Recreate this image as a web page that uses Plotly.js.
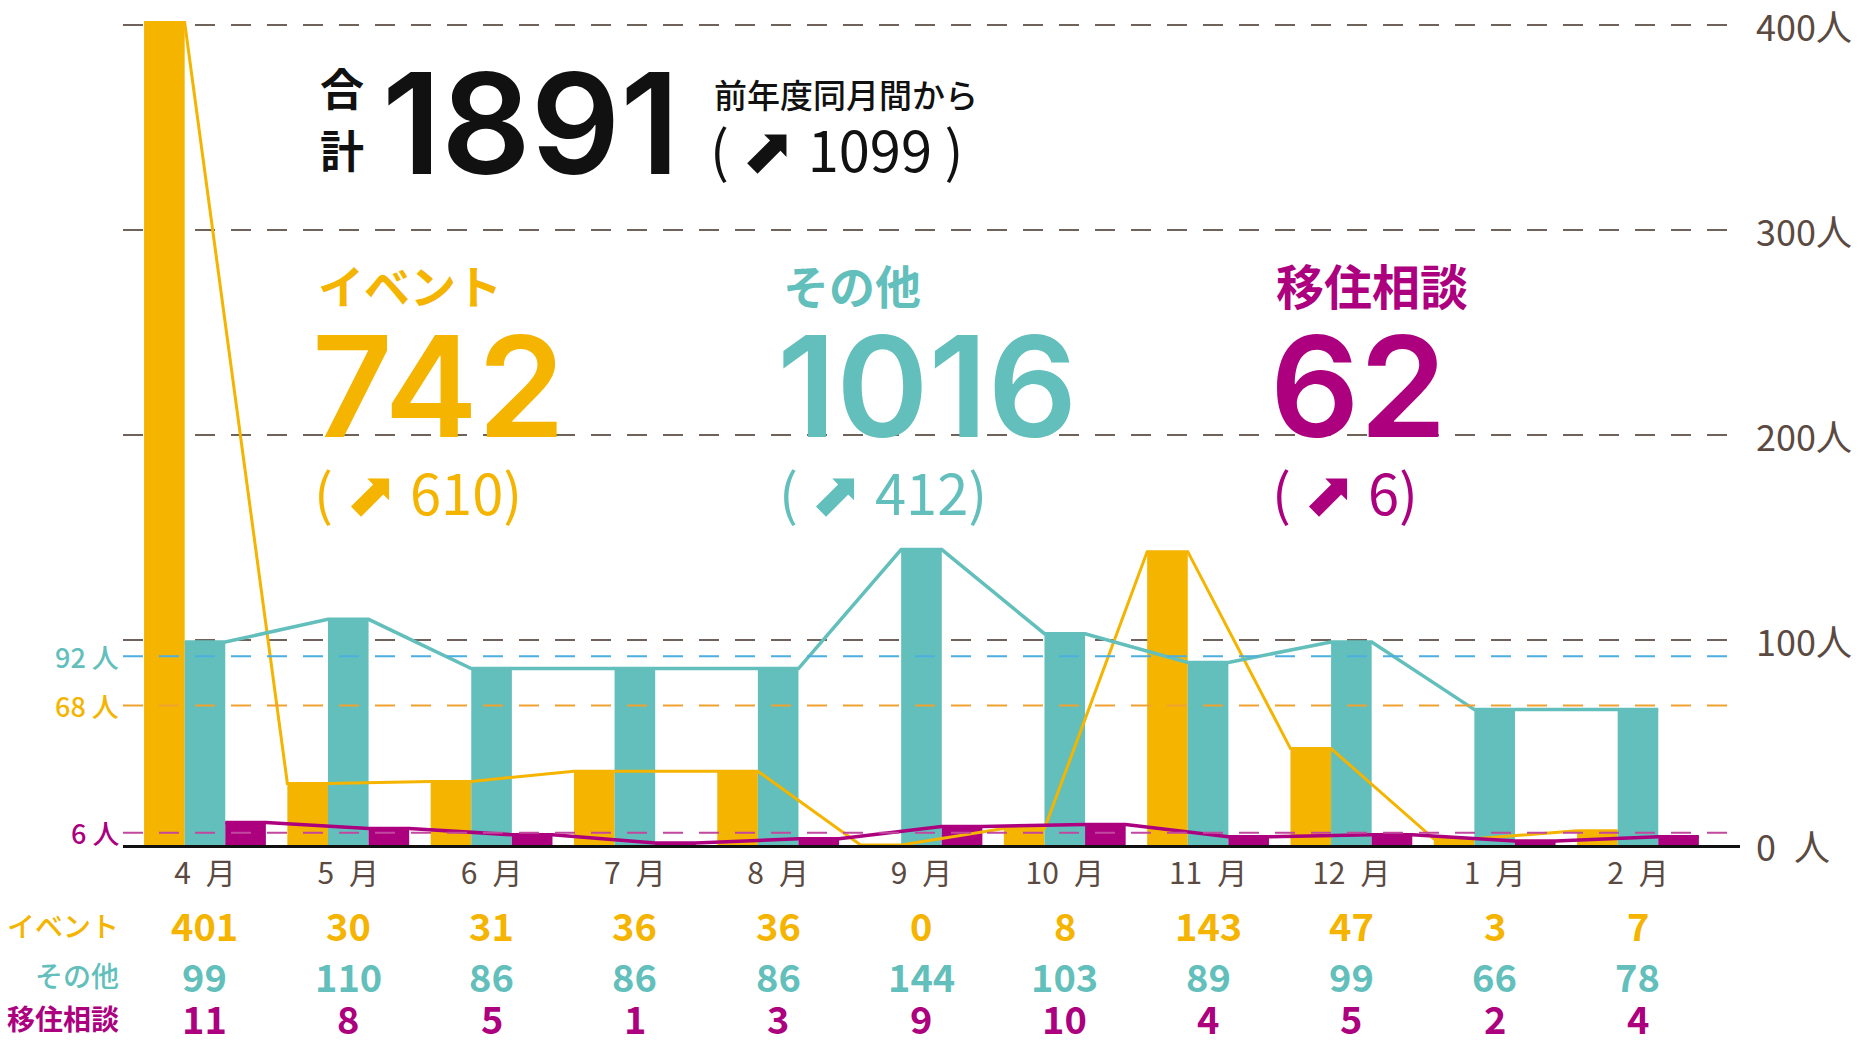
<!DOCTYPE html>
<html><head><meta charset="utf-8">
<script src="https://cdn.plot.ly/plotly-3.0.1.min.js"></script>
<style>html,body{margin:0;padding:0;background:#fff}#chart{width:1870px;height:1045px}</style>
</head><body><div id="chart"></div>
<script>
// ---- data ----
const months = ['4\u2002月','5\u2002月','6\u2002月','7\u2002月','8\u2002月','9\u2002月','10\u2002月','11\u2002月','12\u2002月','1\u2002月','2\u2002月'];
const eventVals   = [401,30,31,36,36,0,8,143,47,3,7];       // bar heights as drawn
const otherVals   = [99,110,86,86,86,144,103,89,99,66,66];  // bar heights as drawn
const consultVals = [11,8,5,1,3,9,10,4,5,2,4];              // bar heights as drawn
const eventTable   = [401,30,31,36,36,0,8,143,47,3,7];      // numbers printed below
const otherTable   = [99,110,86,86,86,144,103,89,99,66,78];
const consultTable = [11,8,5,1,3,9,10,4,5,2,4];
const seriesNames = ['イベント','その他','移住相談'];
const totals = [742,1016,62];
const totalChanges = [610,412,6];
const grandTotal = 1891;
const grandChange = 1099;
const averages = [68,92,6];
const yTicks = [0,100,200,300,400];
const yTickText = ['0\u2002人','100人','200人','300人','400人'];

// ---- style ----
const COLORS = ['#F4B400','#62BFBB','#AC007F'];
const AVG_COLORS = ['#F0A132','#4DAFE0','#C2479E'];
const BROWN = '#5B4A41';
const GRID = '#6E625A';
const JP = 'Noto Sans CJK JP, DejaVu Sans, sans-serif';
const NUM = 'Noto Sans CJK JP, sans-serif';
const BIG = 'Inter, Lato, sans-serif';

const L = 123, R = 1740, T = 4, B = 845;
const W = 1870, H = 1045;
const YMAX = 410;
const px = X => (X - L) / (R - L);
const py = Y => (B - Y) / (B - T);

const idx = months.map((_, i) => i);
const bargap = 0.15;
const bw = (1 - bargap) / 3;

const vals = [eventVals, otherVals, consultVals];
const traces = [];
vals.forEach((v, k) => {
  traces.push({type:'bar', x: idx, y: v, name: seriesNames[k], marker:{color: COLORS[k], line:{width:0}}, hoverinfo:'skip'});
});
vals.forEach((v, k) => {
  const xs = [], ys = [];
  v.forEach((val, i) => {
    const left = i + (k - 1) * bw - bw / 2;
    xs.push(left, left + bw);
    ys.push(val, val);
  });
  traces.push({type:'scatter', mode:'lines', x: xs, y: ys, line:{color: COLORS[k], width: k === 0 ? 3 : 3.5}, hoverinfo:'skip', showlegend:false});
});

const shapes = averages.map((a, k) => ({
  type:'line', xref:'paper', x0:0, x1:1, yref:'y', y0:a, y1:a, layer:'above',
  line:{color: AVG_COLORS[k], width:2, dash:'20px,16px'}
}));

const ann = [];
function A(text, X, Y, font) {
  ann.push({text, xref:'paper', yref:'paper', x: px(X), y: py(Y), xanchor:'left', yanchor:'middle',
    showarrow:false, font});
}
const arrow = size => '<span style="font-family:DejaVu Sans;font-size:' + size + 'px">⬈</span>';

// right-hand value labels
yTicks.forEach((v, i) => {
  ann.push({text: yTickText[i], xref:'paper', yref:'y', x: 1, y: v, xanchor:'left', yanchor:'middle', xshift: 14,
    showarrow:false, font:{size: 36, color: BROWN, family: JP}});
});
// average labels
averages.forEach((a, k) => {
  ann.push({text: a + ' 人', xref:'paper', yref:'y', x: px(121), y: a, xanchor:'right', yanchor:'middle', showarrow:false,
    font:{size: 27, color: COLORS[k], family: NUM, weight: 500}});
});
// table rows
const tables = [eventTable, otherTable, consultTable];
const rowY = [925, 975, 1018];
tables.forEach((t, k) => {
  ann.push({text: seriesNames[k], xref:'paper', yref:'paper', x: px(121), y: py(rowY[k]), xanchor:'right', yanchor:'middle', showarrow:false,
    font:{size: 28, color: COLORS[k], family: JP, weight: k === 2 ? 700 : 500}});
  t.forEach((v, i) => {
    ann.push({text: String(v), xref:'x', yref:'paper', x: i, y: py(rowY[k]), xanchor:'center', yanchor:'middle', showarrow:false,
      font:{size: 38, color: COLORS[k], family: NUM, weight: 600}});
  });
});
// header
A('合', 318, 87, {size:44, color:'#111', family:JP, weight:700});
A('計', 318, 149, {size:44, color:'#111', family:JP, weight:700});
A(String(grandTotal), 380, 123, {size:140, color:'#111', family:BIG, weight:600});
A('前年度同月間から', 712, 94, {size:33, color:'#111', family:JP, weight:500});
A('( ' + arrow(64) + ' ' + grandChange + ' )', 708, 148, {size:56, color:'#111', family:JP});
const catX = [316, 781, 1274];
catX.forEach((X, k) => {
  A(seriesNames[k], X, 284, {size: k === 2 ? 48 : 46, color:COLORS[k], family:JP, weight:700});
  A(String(totals[k]), X - 6, 386, {size:140, color:COLORS[k], family:BIG, weight:600});
  A('( ' + arrow(62) + ' ' + totalChanges[k] + ')', X - 4, 490, {size:56, color:COLORS[k], family:JP});
});

const layout = {
  width: W, height: H,
  margin:{l: L, r: W - R, t: T, b: H - B, pad:0},
  paper_bgcolor:'#fff', plot_bgcolor:'#fff',
  showlegend:false,
  barmode:'group', bargap: bargap, bargroupgap: 0,
  xaxis:{range:[-0.572, 10.712], tickvals: idx, ticktext: months, showgrid:false, zeroline:false,
    showline:true, linecolor:'#111', linewidth:3, ticks:'', tickfont:{size:30, color: BROWN, family: JP}, fixedrange:true},
  yaxis:{range:[0, YMAX], tickvals: yTicks, showgrid:true, gridcolor: GRID, gridwidth:2,
    griddash:'20px,16px', zeroline:false, showline:false, ticks:'', showticklabels:false, fixedrange:true},
  shapes, annotations: ann
};
Plotly.newPlot('chart', traces, layout, {staticPlot:true, displayModeBar:false});
</script></body></html>
